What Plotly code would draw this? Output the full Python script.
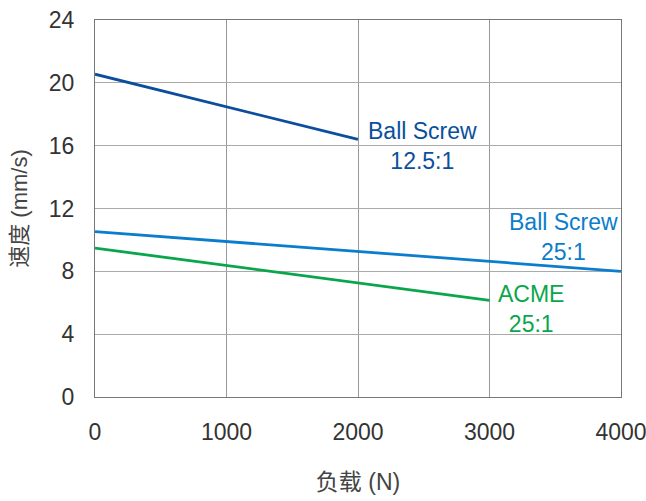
import plotly.graph_objects as go

# Data
bs125_load = [0, 2000]
bs125_speed = [20.55, 16.4]
bs25_load = [0, 4000]
bs25_speed = [10.53, 8.0]
acme_load = [0, 3000]
acme_speed = [9.48, 6.15]

x_ticks = [0, 1000, 2000, 3000, 4000]
y_ticks = [0, 4, 8, 12, 16, 20, 24]

c_bs125 = "#0b4f9c"
c_bs25 = "#0b7dcc"
c_acme = "#0aa64c"

fig = go.Figure()
fig.add_trace(go.Scatter(x=bs125_load, y=bs125_speed, mode="lines",
                         line=dict(color=c_bs125, width=2.8), showlegend=False))
fig.add_trace(go.Scatter(x=bs25_load, y=bs25_speed, mode="lines",
                         line=dict(color=c_bs25, width=2.8), showlegend=False))
fig.add_trace(go.Scatter(x=acme_load, y=acme_speed, mode="lines",
                         line=dict(color=c_acme, width=2.8), showlegend=False))

font_main = "Liberation Sans, Arial, Noto Sans CJK SC, sans-serif"
font_title = "Liberation Sans, Noto Sans CJK SC, sans-serif"

annots = [
    dict(x=2490, y=16.0, text="Ball Screw<br>12.5:1", color=c_bs125),
    dict(x=3566, y=10.2, text="Ball Screw<br>25:1", color=c_bs25),
    dict(x=3316, y=5.6, text="ACME<br>25:1", color=c_acme),
]
for a in annots:
    fig.add_annotation(x=a["x"], y=a["y"], text=a["text"], showarrow=False,
                       xref="x", yref="y", align="center",
                       font=dict(family=font_main, size=23, color=a["color"]))

fig.update_layout(
    width=646, height=501,
    margin=dict(l=95, r=25, t=20, b=104),
    plot_bgcolor="white", paper_bgcolor="white",
    font=dict(family=font_main, size=23, color="#333333"),
    xaxis=dict(range=[0, 4000], tickvals=x_ticks, showgrid=True,
               gridcolor="#999999", gridwidth=1, showline=True,
               linecolor="#777777", linewidth=1, mirror=True, zeroline=False,
               ticks="", ticklabelstandoff=14, automargin=False,
               ticklabeloverflow="allow",
               title=dict(text="负载 (N)", standoff=30,
                          font=dict(family=font_title, size=23, color="#444444"))),
    yaxis=dict(range=[0, 24], tickvals=y_ticks, showgrid=True,
               gridcolor="#aaaaaa", gridwidth=1, showline=True,
               linecolor="#777777", linewidth=1, mirror=True, zeroline=False,
               ticks="", ticklabelstandoff=15, automargin=False,
               ticklabeloverflow="allow",
               title=dict(text="速度 (mm/s)", standoff=15,
                          font=dict(family=font_title, size=22, color="#444444"))),
)

fig.write_html(
    "out.html",
    config={"displayModeBar": False},
    post_script="document.body.style.margin='0';document.body.style.overflow='hidden';",
)
